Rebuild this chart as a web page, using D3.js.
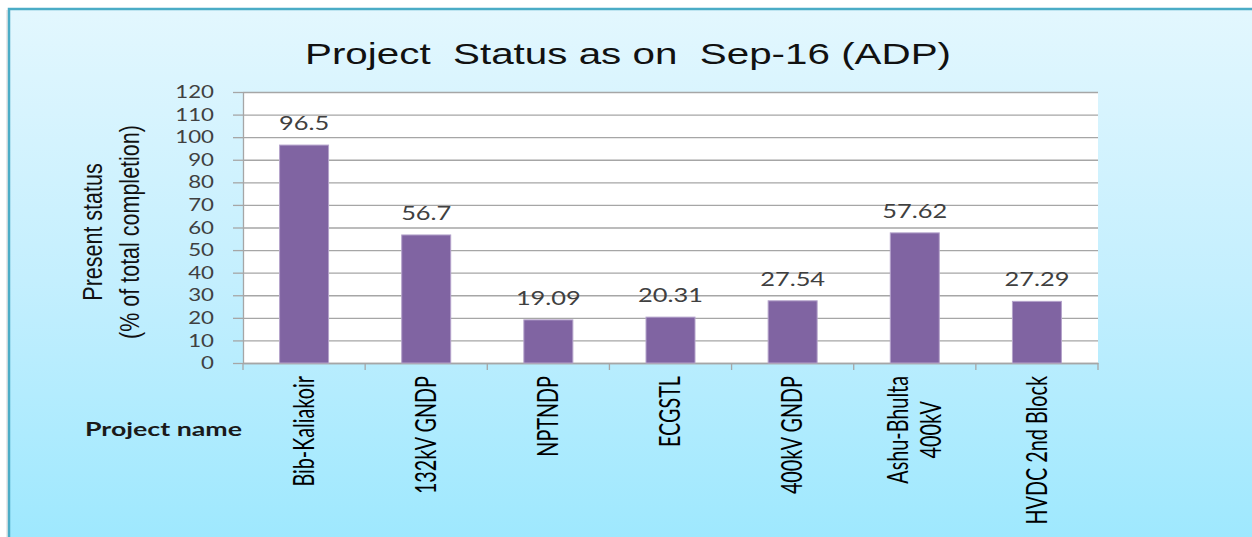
<!DOCTYPE html>
<html>
<head>
<meta charset="utf-8">
<script src="https://cdn.jsdelivr.net/npm/d3@7"></script>
<style>
  body { margin: 0; background: #fff; }
  text { white-space: pre; }
</style>
</head>
<body>
<svg id="chart" width="1252" height="537"></svg>
<script>
// data
var projects = ["Bib-Kaliakoir", "132kV GNDP", "NPTNDP", "ECGSTL", "400kV GNDP", "Ashu-Bhulta\n400kV", "HVDC 2nd Block"];
var completion = [96.5, 56.7, 19.09, 20.31, 27.54, 57.62, 27.29];
var yTicks = [0, 10, 20, 30, 40, 50, 60, 70, 80, 90, 100, 110, 120];
var chartTitle = "Project  Status as on  Sep-16 (ADP)";
var yTitle = ["Present status", "(% of total completion)"];
var xTitle = "Project name";

var svg = d3.select("#chart"),
    plot = { left: 243, right: 1098, top: 92, bottom: 363 },
    stretch = 1.27; // the original picture is a bit wider than tall

// frame with gradient
var defs = svg.append("defs");
var grad = defs.append("linearGradient")
    .attr("id", "bg").attr("x1", 0).attr("y1", 0).attr("x2", 0).attr("y2", 1);
grad.append("stop").attr("offset", "0%").attr("stop-color", "#e3f7fe");
grad.append("stop").attr("offset", "50%").attr("stop-color", "#c4effe");
grad.append("stop").attr("offset", "100%").attr("stop-color", "#9de8fe");

svg.append("rect")
    .attr("x", 6).attr("y", 10).attr("width", 1260).attr("height", 540)
    .attr("fill", "#dcdcdc").attr("opacity", 0.6);
svg.append("rect")
    .attr("x", 9).attr("y", 9).attr("width", 1260).attr("height", 540)
    .attr("fill", "url(#bg)")
    .attr("stroke", "#4bacc6")
    .attr("stroke-width", 2.5);

// plot area
svg.append("rect")
    .attr("x", plot.left).attr("y", plot.top)
    .attr("width", plot.right - plot.left).attr("height", plot.bottom - plot.top)
    .attr("fill", "#fff");

var x = d3.scaleBand().domain(projects).range([plot.left, plot.right]);
var y = d3.scaleLinear().domain([0, 120]).range([plot.bottom, plot.top]);

// gridlines
svg.append("g")
    .attr("transform", "translate(" + plot.left + ",0)")
    .call(d3.axisLeft(y).tickValues(yTicks).tickSize(-(plot.right - plot.left)).tickFormat(""))
    .call(function (g) {
        g.select(".domain").remove();
        g.selectAll("line").attr("stroke", "#a6a6a6").attr("stroke-width", 1.3);
    });

// y axis
var yAxis = svg.append("g")
    .attr("transform", "translate(" + plot.left + ",0)")
    .call(d3.axisLeft(y).tickValues(yTicks).tickSize(10).tickSizeOuter(0));
yAxis.select(".domain").attr("stroke", "#a6a6a6").attr("stroke-width", 1.3);
yAxis.selectAll(".tick line").attr("stroke", "#a6a6a6").attr("stroke-width", 1.3);
yAxis.selectAll(".tick text")
    .attr("x", 0)
    .attr("transform", "translate(-29,0) scale(" + stretch + ",1)")
    .attr("font-family", "Lato, sans-serif")
    .attr("font-size", 17.5)
    .attr("fill", "#404040");

// x axis
var xAxis = svg.append("g")
    .attr("transform", "translate(0," + plot.bottom + ")")
    .call(d3.axisBottom(x).tickSize(0).tickSizeOuter(0).tickFormat(""));
xAxis.select(".domain").attr("stroke", "#a6a6a6").attr("stroke-width", 1.3);
xAxis.selectAll(".tick").remove();
// tick marks sit between categories
var bounds = projects.map(function (p) { return x(p); }).concat([x.range()[1]]);
xAxis.selectAll(".sep")
    .data(bounds)
    .enter().append("line")
    .attr("x1", function (d) { return d; })
    .attr("x2", function (d) { return d; })
    .attr("y1", 0).attr("y2", 7)
    .attr("stroke", "#a6a6a6").attr("stroke-width", 1.3);

// bars
var barW = 49;
svg.selectAll(".bar")
    .data(completion)
    .enter().append("rect")
    .attr("class", "bar")
    .attr("x", function (d, i) { return x(projects[i]) + x.bandwidth() / 2 - barW / 2; })
    .attr("y", function (d) { return y(d); })
    .attr("width", barW)
    .attr("height", function (d) { return y(0) - y(d); })
    .attr("fill", "#8064a2")
    .attr("stroke", "#b4a3cb")
    .attr("stroke-width", 1);

// value labels
svg.selectAll(".val")
    .data(completion)
    .enter().append("text")
    .attr("class", "val")
    .attr("transform", function (d, i) {
        return "translate(" + (x(projects[i]) + x.bandwidth() / 2) + "," + (y(d) - 15) + ") scale(" + stretch + ",1)";
    })
    .attr("text-anchor", "middle")
    .attr("font-family", "Lato, sans-serif")
    .attr("font-size", 20)
    .attr("fill", "#404040")
    .text(function (d) { return String(d); });

// category labels, rotated
projects.forEach(function (p) {
    var lines = p.split("\n");
    var g = svg.append("g")
        .attr("transform", "translate(" + (x(p) + x.bandwidth() / 2) + ",376) rotate(-90) scale(0.9," + stretch + ")");
    var t = g.selectAll("text")
        .data(lines)
        .enter().append("text")
        .attr("font-family", "Lato, sans-serif")
        .attr("font-size", 22)
        .attr("fill", "#000")
        .attr("text-anchor", "middle")
        .attr("dy", "0.35em")
        .attr("y", function (d, i) { return (i - (lines.length - 1) / 2) * 26; })
        .text(function (d) { return d; });
    var maxLen = d3.max(t.nodes(), function (n) { return n.getComputedTextLength(); });
    t.attr("x", -maxLen / 2);
});

// titles
svg.append("text")
    .attr("x", 305).attr("y", 64)
    .attr("textLength", 646)
    .attr("lengthAdjust", "spacingAndGlyphs")
    .attr("font-family", "'Liberation Sans', Arial, sans-serif")
    .attr("font-size", 30)
    .attr("fill", "#111")
    .text(chartTitle);

var yt = svg.append("g")
    .attr("transform", "translate(111,232) rotate(-90) scale(1," + stretch + ")");
yt.selectAll("text")
    .data(yTitle)
    .enter().append("text")
    .attr("text-anchor", "middle")
    .attr("dy", "0.35em")
    .attr("y", function (d, i) { return (i - 0.5) * 29; })
    .attr("font-family", "'Liberation Sans', Arial, sans-serif")
    .attr("font-size", 21.5)
    .attr("fill", "#111")
    .text(function (d) { return d; });

svg.append("text")
    .attr("x", 85).attr("y", 436)
    .attr("textLength", 157)
    .attr("lengthAdjust", "spacingAndGlyphs")
    .attr("font-family", "Lato, sans-serif")
    .attr("font-weight", "bold")
    .attr("font-size", 18)
    .attr("fill", "#1a1a1a")
    .text(xTitle);
</script>
</body>
</html>
